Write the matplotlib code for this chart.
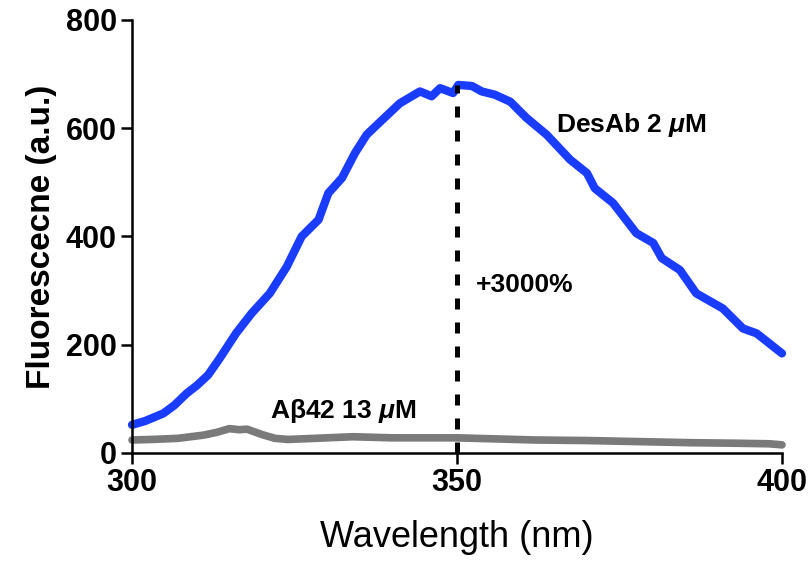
import matplotlib
matplotlib.use("Agg")
import matplotlib.pyplot as plt

# DesAb 2 uM emission spectrum
desab_nm = [300, 302, 304.8, 306.5, 308.4, 310, 311.7, 313.5, 316, 318.4, 321.2,
            323.8, 326.1, 328.7, 330.2, 332.3, 334.3, 336.1, 338.2, 341.2,
            344.3, 346.1, 347.4, 349.4, 350.2, 352.3, 353.8, 355.8, 358.2,
            360.7, 363.8, 367.4, 370, 371.2, 374, 377.6, 380.2, 381.5, 384.3,
            386.8, 390.9, 394, 396.1, 400]
desab_val = [52, 59, 73, 88, 110, 125, 144, 175, 221, 258, 295,
             344, 400, 431, 480, 508, 554, 588, 612, 646,
             668, 659, 674, 665, 680, 678, 668, 662, 649,
             619, 588, 542, 517, 489, 462, 406, 388, 360, 338,
             295, 267, 230, 221, 184]

# Abeta42 13 uM emission spectrum
abeta_nm = [300, 303, 307, 311, 313, 315, 316.5, 317.7, 320, 322, 324, 328,
            334, 340, 346, 350, 356, 362, 370, 378, 386, 393, 398, 400]
abeta_val = [24, 25, 27, 33, 38, 45, 43, 44, 34, 27, 25, 27,
             30, 28, 28, 28, 26, 24, 23, 21, 19, 18, 17, 15]

peak_nm = 350
peak_val = 680

plt.rcParams['font.family'] = ['Liberation Sans', 'DejaVu Sans']
plt.rcParams['mathtext.fontset'] = 'custom'
plt.rcParams['mathtext.it'] = 'Liberation Sans:italic:bold'
plt.rcParams['mathtext.rm'] = 'Liberation Sans:bold'

fig = plt.figure(figsize=(8.12, 5.69), dpi=100)
ax = fig.add_axes([0.1626, 0.2039, 0.8004, 0.761])

ax.plot(abeta_nm, abeta_val, color='#7a7a7a', lw=5.5, solid_capstyle='round',
        solid_joinstyle='round', clip_on=False)
ax.plot(desab_nm, desab_val, color='#1a3cff', lw=6, solid_capstyle='round',
        solid_joinstyle='round', clip_on=False)
# dashed marker at the emission maximum
ax.plot([peak_nm, peak_nm], [0, peak_val], color='black', lw=3.6,
        linestyle=(0, (2.2, 2.6)), clip_on=False)

ax.text(365.3, 606, r'DesAb 2 $\it{\mu}$M', fontsize=19, fontweight='bold',
        va='center', ha='left')
ax.text(352.9, 310, '+3000%', fontsize=19, fontweight='bold', va='center', ha='left')
ax.text(321.2, 78, r'A$\rm{\beta}$42 13 $\it{\mu}$M', fontsize=19, fontweight='bold',
        va='center', ha='left')

ax.set_xlim(300, 400)
ax.set_ylim(0, 800)
ax.set_xticks([300, 350, 400])
ax.set_yticks([0, 200, 400, 600, 800])

for s in ['top', 'right']:
    ax.spines[s].set_visible(False)
for s in ['left', 'bottom']:
    ax.spines[s].set_linewidth(1.8)

ax.tick_params(direction='out', length=8, width=1.8, labelsize=22, pad=3)
for lab in ax.get_xticklabels() + ax.get_yticklabels():
    lab.set_fontweight('bold')

ax.set_ylabel('Fluorescecne (a.u.)', fontsize=24, fontweight='bold', labelpad=6)
ax.set_xlabel('Wavelength (nm)', fontsize=26, labelpad=16)

fig.savefig('out.png', dpi=100)
